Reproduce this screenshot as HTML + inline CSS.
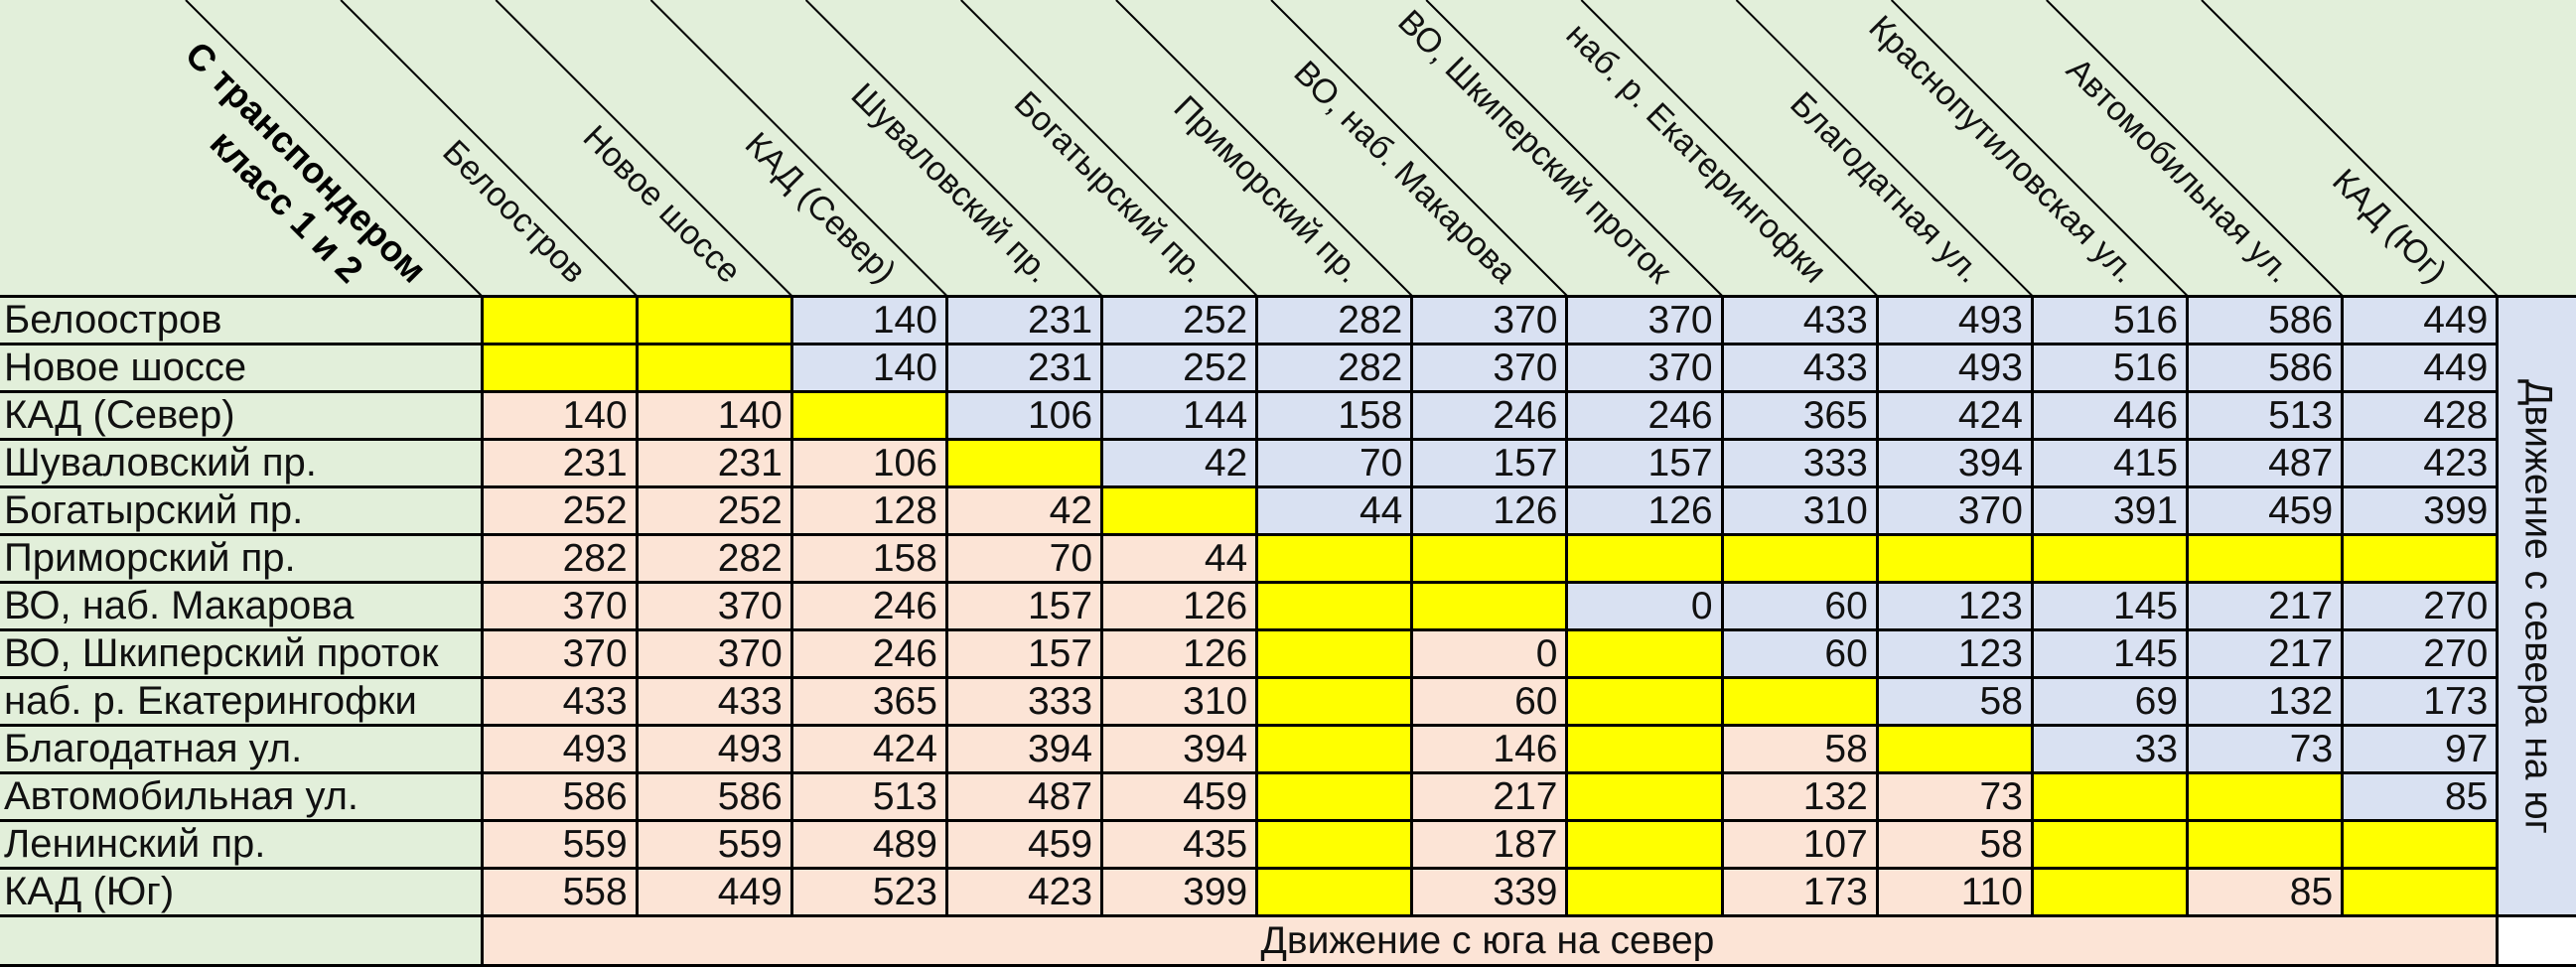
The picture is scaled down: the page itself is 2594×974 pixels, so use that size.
<!DOCTYPE html>
<html><head><meta charset="utf-8">
<style>
html,body{margin:0;padding:0;background:#e2efda;}
body{width:2594px;height:972px;position:relative;overflow:hidden;font-family:"Liberation Sans",Arial,sans-serif;}
svg.h{position:absolute;left:0;top:0;}
table{position:absolute;left:0;top:297px;border-collapse:collapse;table-layout:fixed;width:2596px;}
td{border:3px solid #000;height:45px;padding:0 8px 0 4px;font-size:39px;line-height:45px;text-align:right;white-space:nowrap;overflow:hidden;color:#111;box-sizing:content-box;}
td.l{background:#e2efda;text-align:left;font-size:40px;border-left:none;padding-left:4px;}
td.y{background:#ffff00;}
td.b{background:#d9e1f2;}
td.p{background:#fce4d6;}
td.v{background:#d9e1f2;writing-mode:vertical-rl;text-align:center;font-size:39px;padding:0;line-height:79px;border-right:none;}
tr.f td{height:47px;line-height:47px;}
td.fp{background:#fce4d6;text-align:center;}
td.fw{background:#fff;}
</style></head><body>
<svg class="h" width="2594" height="298" xmlns="http://www.w3.org/2000/svg">
<rect width="2594" height="298" fill="#e2efda"/>
<g stroke="#000" stroke-width="2">
<line x1="485" y1="298" x2="187" y2="0"/>
<line x1="641.15" y1="298" x2="343.15" y2="0"/>
<line x1="797.3" y1="298" x2="499.3" y2="0"/>
<line x1="953.45" y1="298" x2="655.45" y2="0"/>
<line x1="1109.6" y1="298" x2="811.6" y2="0"/>
<line x1="1265.75" y1="298" x2="967.75" y2="0"/>
<line x1="1421.9" y1="298" x2="1123.9" y2="0"/>
<line x1="1578.05" y1="298" x2="1280.05" y2="0"/>
<line x1="1734.2" y1="298" x2="1436.2" y2="0"/>
<line x1="1890.35" y1="298" x2="1592.35" y2="0"/>
<line x1="2046.5" y1="298" x2="1748.5" y2="0"/>
<line x1="2202.65" y1="298" x2="1904.65" y2="0"/>
<line x1="2358.8" y1="298" x2="2060.8" y2="0"/>
<line x1="2514.95" y1="298" x2="2216.95" y2="0"/>
</g>
<g font-family="Liberation Sans, Arial, sans-serif" font-size="37" font-weight="bold" text-anchor="end" fill="#000">
<text x="414" y="287" transform="rotate(45 414 287)">С транспондером</text>
<text x="350" y="287" transform="rotate(45 350 287)">класс 1 и 2</text>
</g>
<g font-family="Liberation Sans, Arial, sans-serif" font-size="34" text-anchor="end" fill="#111">
<text x="576" y="287" transform="rotate(45 576 287)">Белоостров</text>
<text x="732.15" y="287" transform="rotate(45 732.15 287)">Новое шоссе</text>
<text x="888.3" y="287" transform="rotate(45 888.3 287)">КАД (Север)</text>
<text x="1044.45" y="287" transform="rotate(45 1044.45 287)">Шуваловский пр.</text>
<text x="1200.6" y="287" transform="rotate(45 1200.6 287)">Богатырский пр.</text>
<text x="1356.75" y="287" transform="rotate(45 1356.75 287)">Приморский пр.</text>
<text x="1512.9" y="287" transform="rotate(45 1512.9 287)">ВО, наб. Макарова</text>
<text x="1669.05" y="287" transform="rotate(45 1669.05 287)">ВО, Шкиперский проток</text>
<text x="1825.2" y="287" transform="rotate(45 1825.2 287)">наб. р. Екатерингофки</text>
<text x="1981.35" y="287" transform="rotate(45 1981.35 287)">Благодатная ул.</text>
<text x="2137.5" y="287" transform="rotate(45 2137.5 287)">Краснопутиловская ул.</text>
<text x="2293.65" y="287" transform="rotate(45 2293.65 287)">Автомобильная ул.</text>
<text x="2449.8" y="287" transform="rotate(45 2449.8 287)">КАД (Юг)</text>
</g>
</svg>
<table>
<colgroup><col style="width:485px"><col span="13" style="width:156.15px"><col style="width:81px"></colgroup>
<tr><td class="l">Белоостров</td><td class="y"></td><td class="y"></td><td class="b">140</td><td class="b">231</td><td class="b">252</td><td class="b">282</td><td class="b">370</td><td class="b">370</td><td class="b">433</td><td class="b">493</td><td class="b">516</td><td class="b">586</td><td class="b">449</td><td class="v" rowspan="13">Движение с севера на юг</td></tr>
<tr><td class="l">Новое шоссе</td><td class="y"></td><td class="y"></td><td class="b">140</td><td class="b">231</td><td class="b">252</td><td class="b">282</td><td class="b">370</td><td class="b">370</td><td class="b">433</td><td class="b">493</td><td class="b">516</td><td class="b">586</td><td class="b">449</td></tr>
<tr><td class="l">КАД (Север)</td><td class="p">140</td><td class="p">140</td><td class="y"></td><td class="b">106</td><td class="b">144</td><td class="b">158</td><td class="b">246</td><td class="b">246</td><td class="b">365</td><td class="b">424</td><td class="b">446</td><td class="b">513</td><td class="b">428</td></tr>
<tr><td class="l">Шуваловский пр.</td><td class="p">231</td><td class="p">231</td><td class="p">106</td><td class="y"></td><td class="b">42</td><td class="b">70</td><td class="b">157</td><td class="b">157</td><td class="b">333</td><td class="b">394</td><td class="b">415</td><td class="b">487</td><td class="b">423</td></tr>
<tr><td class="l">Богатырский пр.</td><td class="p">252</td><td class="p">252</td><td class="p">128</td><td class="p">42</td><td class="y"></td><td class="b">44</td><td class="b">126</td><td class="b">126</td><td class="b">310</td><td class="b">370</td><td class="b">391</td><td class="b">459</td><td class="b">399</td></tr>
<tr><td class="l">Приморский пр.</td><td class="p">282</td><td class="p">282</td><td class="p">158</td><td class="p">70</td><td class="p">44</td><td class="y"></td><td class="y"></td><td class="y"></td><td class="y"></td><td class="y"></td><td class="y"></td><td class="y"></td><td class="y"></td></tr>
<tr><td class="l">ВО, наб. Макарова</td><td class="p">370</td><td class="p">370</td><td class="p">246</td><td class="p">157</td><td class="p">126</td><td class="y"></td><td class="y"></td><td class="b">0</td><td class="b">60</td><td class="b">123</td><td class="b">145</td><td class="b">217</td><td class="b">270</td></tr>
<tr><td class="l">ВО, Шкиперский проток</td><td class="p">370</td><td class="p">370</td><td class="p">246</td><td class="p">157</td><td class="p">126</td><td class="y"></td><td class="p">0</td><td class="y"></td><td class="b">60</td><td class="b">123</td><td class="b">145</td><td class="b">217</td><td class="b">270</td></tr>
<tr><td class="l">наб. р. Екатерингофки</td><td class="p">433</td><td class="p">433</td><td class="p">365</td><td class="p">333</td><td class="p">310</td><td class="y"></td><td class="p">60</td><td class="y"></td><td class="y"></td><td class="b">58</td><td class="b">69</td><td class="b">132</td><td class="b">173</td></tr>
<tr><td class="l">Благодатная ул.</td><td class="p">493</td><td class="p">493</td><td class="p">424</td><td class="p">394</td><td class="p">394</td><td class="y"></td><td class="p">146</td><td class="y"></td><td class="p">58</td><td class="y"></td><td class="b">33</td><td class="b">73</td><td class="b">97</td></tr>
<tr><td class="l">Автомобильная ул.</td><td class="p">586</td><td class="p">586</td><td class="p">513</td><td class="p">487</td><td class="p">459</td><td class="y"></td><td class="p">217</td><td class="y"></td><td class="p">132</td><td class="p">73</td><td class="y"></td><td class="y"></td><td class="b">85</td></tr>
<tr><td class="l">Ленинский пр.</td><td class="p">559</td><td class="p">559</td><td class="p">489</td><td class="p">459</td><td class="p">435</td><td class="y"></td><td class="p">187</td><td class="y"></td><td class="p">107</td><td class="p">58</td><td class="y"></td><td class="y"></td><td class="y"></td></tr>
<tr><td class="l">КАД (Юг)</td><td class="p">558</td><td class="p">449</td><td class="p">523</td><td class="p">423</td><td class="p">399</td><td class="y"></td><td class="p">339</td><td class="y"></td><td class="p">173</td><td class="p">110</td><td class="y"></td><td class="p">85</td><td class="y"></td></tr>
<tr class="f"><td class="l"></td><td class="fp" colspan="13">Движение с юга на север</td><td class="fw"></td></tr>
</table>
</body></html>
